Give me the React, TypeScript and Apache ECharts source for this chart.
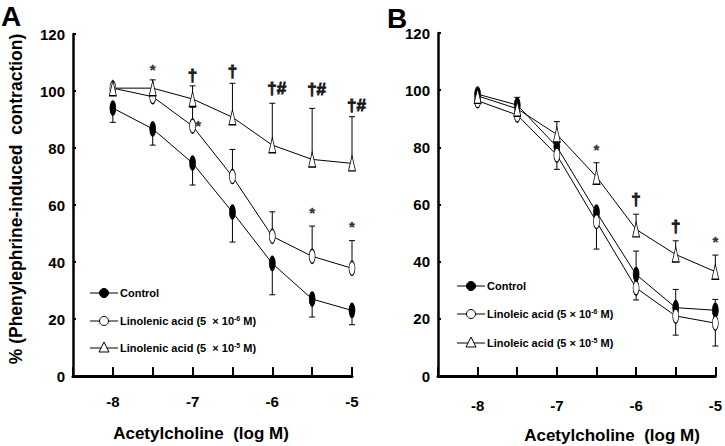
import React, { useEffect, useRef } from "react";
import * as echarts from "echarts";

const xs = [-8, -7.5, -7, -6.5, -6, -5.5, -5];
const xTickLabels = ["-8", "-7", "-6", "-5"];
const yTicks = [0, 20, 40, 60, 80, 100, 120];

// Panel A
const aControl = [94, 86.7, 74.7, 57.5, 39.5, 27, 23];
const aControlErrEnd = [89, 81, 67, 47, 28.5, 20.7, 18];
const aLinolenicLow = [101, 98, 87.7, 70, 49, 42, 37.8];
const aLinolenicLowErrEnd = [null, null, 94.3, 79.5, 57.6, 52.6, 47.5];
const aLinolenicHigh = [101, 101, 97.2, 90.8, 81, 76, 74.6];
const aLinolenicHighErrEnd = [null, 103.9, 101.8, 102.7, 95.7, 93.9, 91];
const aMarks: [number, number, string][] = [
  [-7.5, 107.4, "*"],
  [-7, 105.6, "†"],
  [-6.5, 106.7, "†"],
  [-6, 101, "†#"],
  [-5.5, 100.4, "†#"],
  [-5, 95, "†#"],
  [-6.93, 88, "*"],
  [-5.5, 57.5, "*"],
  [-5, 52.6, "*"],
];

// Panel B
const bControl = [98.6, 94.8, 80.2, 57.3, 35.5, 23.9, 23];
const bControlErrEnd = [null, 97.5, null, null, 43.7, 30.3, 26.8];
const bLinoleicLow = [96.3, 91.3, 77.3, 54, 30.8, 21, 18.5];
const bLinoleicLowErrEnd = [null, null, 72.3, 44.4, 26.6, 14.3, 10.5];
const bLinoleicHigh = [98, 93.5, 84.5, 69.7, 51.3, 42.5, 36.5];
const bLinoleicHighErrEnd = [null, null, 89, 74.6, 56.6, 47.3, 42.3];
const bMarks: [number, number, string][] = [
  [-6.5, 79.4, "*"],
  [-6, 61.9, "†"],
  [-5.5, 52.2, "†"],
  [-5, 47, "*"],
];

const FONT = "'Liberation Sans', Arial, sans-serif";

function pairs(vals: number[]) {
  return xs.map((x, i) => [x, vals[i]]);
}
function errData(vals: number[], ends: (number | null)[]) {
  const out: number[][] = [];
  xs.forEach((x, i) => {
    if (ends[i] != null) out.push([x, vals[i], ends[i] as number]);
  });
  return out;
}

function errSeries(idx: number, vals: number[], ends: (number | null)[]) {
  return {
    type: "custom",
    xAxisIndex: idx,
    yAxisIndex: idx,
    z: 1,
    silent: true,
    data: errData(vals, ends),
    renderItem: (params: any, api: any) => {
      const x = api.value(0);
      const p1 = api.coord([x, api.value(1)]);
      const p2 = api.coord([x, api.value(2)]);
      const st = { stroke: "#000", lineWidth: 1 };
      return {
        type: "group",
        children: [
          { type: "line", shape: { x1: p1[0], y1: p1[1], x2: p2[0], y2: p2[1] }, style: st },
          { type: "line", shape: { x1: p2[0] - 3, y1: p2[1], x2: p2[0] + 3, y2: p2[1] }, style: st },
        ],
      };
    },
  };
}

function lineSeries(idx: number, name: string, vals: number[], kind: string) {
  const filled = kind === "filled";
  const tri = kind === "tri";
  return {
    type: "line",
    name,
    xAxisIndex: idx,
    yAxisIndex: idx,
    z: 3,
    data: pairs(vals),
    symbol: tri ? "triangle" : "circle",
    symbolSize: tri ? [7, 15] : [6, 14],
    showAllSymbol: true,
    lineStyle: { color: "#000", width: 1 },
    itemStyle: { color: filled ? "#000" : "#fff", borderColor: "#000", borderWidth: 1 },
  };
}

function markSeries(idx: number, marks: [number, number, string][]) {
  return {
    type: "scatter",
    xAxisIndex: idx,
    yAxisIndex: idx,
    z: 4,
    symbolSize: 0,
    silent: true,
    data: marks.map((m) => ({
      value: [m[0], m[1]],
      label: {
        show: true,
        position: "inside",
        formatter: m[2],
        color: "#000",
        fontFamily: FONT,
        fontWeight: "bold",
        fontSize: m[2] === "*" ? 15 : 17,
        textBorderColor: "#000",
        textBorderWidth: m[2] === "*" ? 0.3 : 1,
        align: m[2].length > 1 ? "left" : "center",
        offset: m[2].length > 1 ? [-5, 0] : [0, 0],
      },
    })),
  };
}

function axes(idx: number, labelMargin: number) {
  const x = {
    type: "value",
    gridIndex: idx,
    min: -8.5,
    max: -5,
    interval: 0.5,
    axisLine: { show: true, lineStyle: { color: "#000", width: 3 } },
    axisTick: { show: true, inside: true, length: 9, lineStyle: { color: "#000", width: 2 } },
    splitLine: { show: false },
    axisLabel: {
      color: "#000",
      fontFamily: FONT,
      fontWeight: "bold",
      fontSize: 15,
      margin: labelMargin,
      formatter: (v: number) => {
        const s = String(Math.round(v));
        return Number.isInteger(v) && xTickLabels.includes(s) ? s : "";
      },
    },
  };
  const y = {
    type: "value",
    gridIndex: idx,
    min: yTicks[0],
    max: yTicks[yTicks.length - 1],
    interval: 20,
    axisLine: { show: true, lineStyle: { color: "#000", width: 2.5 } },
    axisTick: { show: true, inside: true, length: 3, lineStyle: { color: "#000", width: 2 } },
    splitLine: { show: false },
    axisLabel: {
      color: "#000",
      fontFamily: FONT,
      fontWeight: "bold",
      fontSize: 15,
      margin: 8,
    },
  };
  return { x, y };
}

function legendGraphic(x0: number, ys: number[], labels: string[]) {
  const els: any[] = [];
  const kinds = ["filled", "open", "tri"];
  ys.forEach((y, i) => {
    els.push({ type: "line", shape: { x1: x0, y1: y, x2: x0 + 28, y2: y }, style: { stroke: "#000", lineWidth: 1 } });
    if (kinds[i] === "tri") {
      els.push({
        type: "polygon",
        shape: { points: [[x0 + 14, y - 6], [x0 + 9, y + 4], [x0 + 19, y + 4]] },
        style: { fill: "#fff", stroke: "#000", lineWidth: 1 },
      });
    } else {
      els.push({
        type: "circle",
        shape: { cx: x0 + 14, cy: y, r: 4.5 },
        style: { fill: kinds[i] === "filled" ? "#000" : "#fff", stroke: "#000", lineWidth: 1 },
      });
    }
    els.push({
      type: "text",
      x: x0 + 30,
      y,
      style: {
        text: labels[i],
        fill: "#000",
        font: `bold 11px ${FONT}`,
        verticalAlign: "middle",
        rich: {
          sup: { fontSize: 7, fontWeight: "bold", fontFamily: FONT, fill: "#000", padding: [0, 0, 6, 0] },
        },
      },
    });
  });
  return els;
}

export default function App() {
  const ref = useRef<HTMLDivElement>(null);
  useEffect(() => {
    if (!ref.current) return;
    const chart = echarts.init(ref.current, null, { renderer: "svg" });
    const a = axes(0, 18);
    const b = axes(1, 22);
    const option: any = {
      animation: false,
      backgroundColor: "#fff",
      grid: [
        { left: 73, top: 34, width: 279, height: 342 },
        { left: 438, top: 33, width: 282, height: 343 },
      ],
      xAxis: [a.x, b.x],
      yAxis: [a.y, b.y],
      series: [
        errSeries(0, aControl, aControlErrEnd),
        errSeries(0, aLinolenicLow, aLinolenicLowErrEnd),
        errSeries(0, aLinolenicHigh, aLinolenicHighErrEnd),
        lineSeries(0, "Control", aControl, "filled"),
        lineSeries(0, "Linolenic acid (5 × 10-6 M)", aLinolenicLow, "open"),
        lineSeries(0, "Linolenic acid (5 × 10-5 M)", aLinolenicHigh, "tri"),
        markSeries(0, aMarks),
        errSeries(1, bControl, bControlErrEnd),
        errSeries(1, bLinoleicLow, bLinoleicLowErrEnd),
        errSeries(1, bLinoleicHigh, bLinoleicHighErrEnd),
        lineSeries(1, "Control ", bControl, "filled"),
        lineSeries(1, "Linoleic acid (5 × 10-6 M)", bLinoleicLow, "open"),
        lineSeries(1, "Linoleic acid (5 × 10-5 M)", bLinoleicHigh, "tri"),
        markSeries(1, bMarks),
      ],
      graphic: [
        { type: "text", x: 1, y: 2, style: { text: "A", fill: "#000", font: `bold 28px ${FONT}` } },
        { type: "text", x: 387, y: 4, style: { text: "B", fill: "#000", font: `bold 28px ${FONT}` } },
        {
          type: "text",
          x: 16,
          y: 199,
          rotation: Math.PI / 2,
          style: {
            text: "% (Phenylephrine-induced  contraction)",
            fill: "#000",
            font: `bold 17.5px ${FONT}`,
            align: "center",
            verticalAlign: "middle",
          },
        },
        {
          type: "text",
          x: 201,
          y: 433,
          style: { text: "Acetylcholine  (log M)", fill: "#000", font: `bold 17px ${FONT}`, align: "center", verticalAlign: "middle" },
        },
        {
          type: "text",
          x: 612,
          y: 435,
          style: { text: "Acetylcholine  (log M)", fill: "#000", font: `bold 17px ${FONT}`, align: "center", verticalAlign: "middle" },
        },
        ...legendGraphic(90, [293, 321, 348], [
          "Control",
          "Linolenic acid (5  × 10{sup|-6} M)",
          "Linolenic acid (5  × 10{sup|-5} M)",
        ]),
        ...legendGraphic(457, [286, 314, 343], [
          "Control",
          "Linoleic acid (5 × 10{sup|-6} M)",
          "Linoleic acid (5 × 10{sup|-5} M)",
        ]),
      ],
    };
    chart.setOption(option);
    return () => chart.dispose();
  }, []);
  return <div ref={ref} style={{ width: 725, height: 446, position: "absolute", left: 0, top: 0 }} />;
}
